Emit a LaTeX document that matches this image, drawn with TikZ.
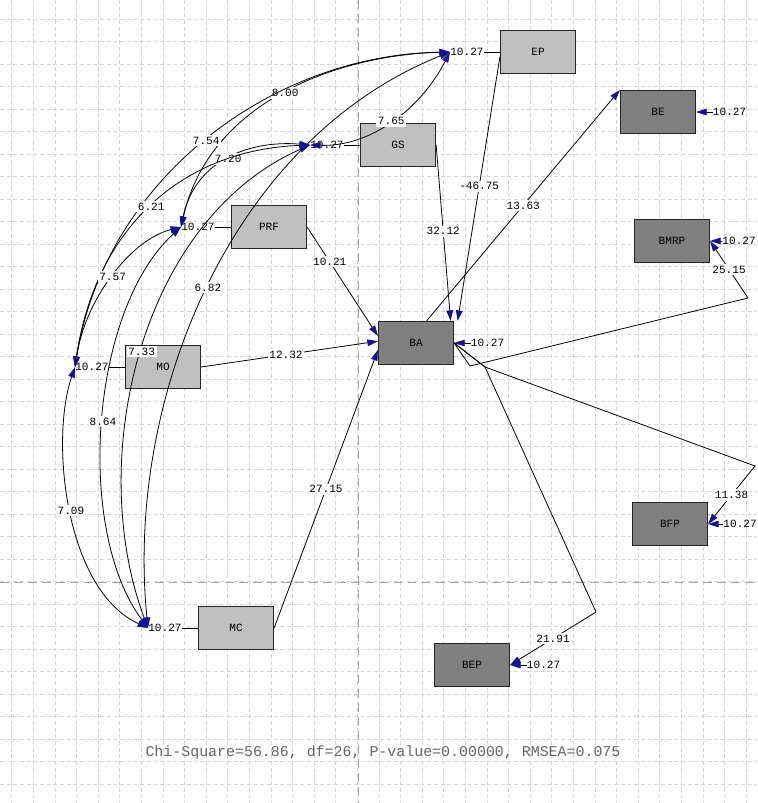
\documentclass[tikz,border=0pt]{standalone}
\usepackage{fontspec}
\setmonofont{Liberation Mono}
\usepackage{xcolor}
\usepackage{tikz}
\usetikzlibrary{arrows.meta,positioning}
\definecolor{exofill}{RGB}{192,192,192}
\definecolor{endofill}{RGB}{128,128,128}
\definecolor{lisblue}{RGB}{20,20,150}
\definecolor{gridgray}{RGB}{212,212,212}
\newcommand{\lisfont}{\ttfamily\fontsize{6.3}{7}\selectfont}
\tikzset{
  exo box/.style   = {draw=black!85, line width=0.7pt, fill=exofill,
                      minimum width=1.5cm, minimum height=0.86cm,
                      inner sep=0pt, font=\lisfont},
  endo box/.style  = {exo box, fill=endofill},
  err text/.style  = {inner sep=0pt, font=\lisfont},
  coef/.style      = {fill=white, inner sep=1pt, font=\lisfont},
  arr/.style       = {-{Triangle[length=6pt,width=3.8pt,color=lisblue]}, line width=0.45pt},
  cov/.style       = {{Triangle[length=6pt,width=3.8pt,color=lisblue]}-{Triangle[length=6pt,width=3.8pt,color=lisblue]},
                      line width=0.45pt},
  grid line/.style = {gridgray, line width=0.4pt, dash pattern=on 2.2pt off 1.6pt},
  page line/.style = {black!35, line width=0.5pt, dash pattern=on 5pt off 3pt},
}

\begin{document}
\begin{tikzpicture}[x=0.02cm, y=-0.02cm]
  \useasboundingbox[fill=white] (0,0) rectangle (757,803);
  \foreach \gx in {0,...,34} \draw[grid line] ({11.7+21.6*\gx},0) -- ({11.7+21.6*\gx},803);
  \foreach \gy in {0,...,35} \draw[grid line] (0,{-3.3+22.5*\gy}) -- (757,{-3.3+22.5*\gy});
  \draw[page line] (358,0) -- (358,803);
  \draw[page line] (0,582) -- (757,582);

  \node[exo box]  (ep)   at (538,52)  {EP};
  \node[exo box]  (gs)   at (398,145) {GS};
  \node[exo box]  (prf)  at (269,227) {PRF};
  \node[exo box]  (mo)   at (163,367) {MO};
  \node[exo box]  (mc)   at (236,628) {MC};
  \node[endo box] (ba)   at (416,343) {BA};
  \node[endo box] (be)   at (658,112) {BE};
  \node[endo box] (bmrp) at (672,241) {BMRP};
  \node[endo box] (bfp)  at (670,524) {BFP};
  \node[endo box] (bep)  at (472,665) {BEP};

  \foreach \v in {ep,gs,prf,mo,mc} {
    \node[err text, left=0.32cm of \v] (\v-v) {10.27};
    \draw[line width=0.45pt] (\v-v.east) -- (\v.west);
  }
  \foreach \v/\d in {ba/0.33cm,be/0.33cm,bmrp/0.24cm,bfp/0.3cm,bep/0.33cm} {
    \node[err text, right=\d of \v] (\v-e) {10.27};
    \draw[arr] (\v-e.west) -- (\v.east);
  }

  \draw[cov] (gs-v.west) .. controls (370,147) and (420,110) .. (ep-v.west) node[coef,pos=0.5] {7.65};
  \draw[cov] (prf-v.west) .. controls (210,100) and (340,55) .. (ep-v.west) node[coef,pos=0.5] {8.00};
  \draw[cov] (mo-v.west) .. controls (105,180) and (270,55) .. (ep-v.west) node[coef,pos=0.5] {7.54};
  \draw[cov] (mc-v.west) .. controls (125,400) and (230,140) .. (ep-v.west) node[coef,pos=0.5] {6.82};
  \draw[cov] (prf-v.west) .. controls (195,160) and (250,140) .. (gs-v.west) node[coef,pos=0.5] {7.20};
  \draw[cov] (mo-v.west) .. controls (95,230) and (180,150) .. (gs-v.west) node[coef,pos=0.5] {6.21};
  \draw[cov] (mc-v.west) .. controls (85,460) and (140,220) .. (gs-v.west) node[coef,pos=0.5] {7.33};
  \draw[cov] (mo-v.west) .. controls (85,300) and (130,240) .. (prf-v.west) node[coef,pos=0.5] {7.57};
  \draw[cov] (mc-v.west) .. controls (75,530) and (90,310) .. (prf-v.west) node[coef,pos=0.5] {8.64};
  \draw[cov] (mo-v.west) .. controls (50,440) and (65,590) .. (mc-v.west) node[coef,pos=0.5] {7.09};

  \draw[arr] ([yshift=-2.8pt]ep.west) -- ([xshift=2pt]ba.north east) node[coef,pos=0.49] {-46.75};
  \draw[arr] (gs.east) -- ([xshift=-2pt]ba.north east) node[coef,pos=0.49] {32.12};
  \draw[arr] (prf.east) -- ([yshift=4pt]ba.west) node[coef,pos=0.32] {10.21};
  \draw[arr] (mo.east) -- ([yshift=1pt]ba.west) node[coef,pos=0.48] {12.32};
  \draw[arr] (mc.east) -- ([yshift=-4pt]ba.west) node[coef,pos=0.5] {27.15};

  \draw[arr] ([xshift=6pt]ba.north) -- (be.north west) node[coef,pos=0.5] {13.63};
  \draw[arr] (ba.east) -- (470,366) -- (748,298) -- (bmrp.east) node[coef,pos=0.5] {25.15};
  \draw[arr] (ba.east) -- (485,367) -- (755,466) -- (bfp.east) node[coef,pos=0.5] {11.38};
  \draw[arr] (ba.east) -- (485,367) -- (596,612) -- (bep.east) node[coef,pos=0.5] {21.91};

  \node[font=\ttfamily\fontsize{8.5}{10}\selectfont, text=black!60] (fit) at (383,753)
    {Chi-Square=56.86, df=26, P-value=0.00000, RMSEA=0.075};
\end{tikzpicture}
\end{document}
